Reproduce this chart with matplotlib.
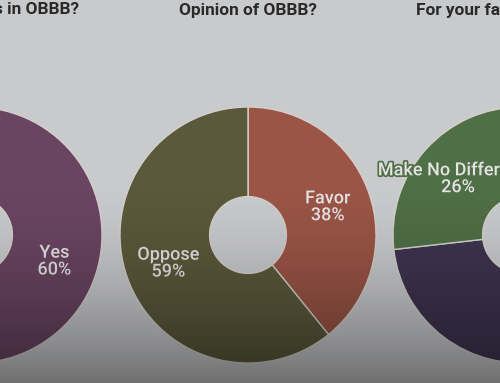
import numpy as np
import matplotlib
matplotlib.use("Agg")
import matplotlib.pyplot as plt
import matplotlib.patheffects as pe

# ---- data ----
titles = ["Heard of the cuts in OBBB?", "Opinion of OBBB?", "For your family, OBBB will?"]
labels_left = ["Yes", "No"]
values_left = [60, 40]
labels_mid = ["Favor", "Oppose"]
values_mid = [38, 59]
labels_right = ["Help", "Hurt", "Make No Difference"]
values_right = [21, 50, 26]

colors_left = ["#6a4562", "#4d6a86"]
colors_mid = ["#9a5546", "#5b593b"]
colors_right = ["#9a5546", "#3f3450", "#4f6f46"]

W, H = 500, 383
fig = plt.figure(figsize=(5.0, 3.83), dpi=100)
ax = fig.add_axes([0, 0, 1, 1])

# background
bg = np.ones((H, 2, 3)) * np.array([201, 202, 204]) / 255.0
ax.imshow(bg, extent=(0, W, 0, H), aspect="auto", zorder=0)

R = 128
cy = H - 235
centers = [(-26, cy), (248, cy), (521, cy)]
datasets = [(labels_left, values_left, colors_left),
            (labels_mid, values_mid, colors_mid),
            (labels_right, values_right, colors_right)]

for (cx, cyy), (labs, vals, cols), title in zip(centers, datasets, titles):
    wedges, _ = ax.pie(vals, colors=cols, center=(cx, cyy), radius=R,
                       startangle=90, counterclock=False,
                       wedgeprops=dict(width=R * 0.70, edgecolor="#d6d0cc",
                                       linewidth=1.0))
    for w, lab, v, c in zip(wedges, labs, vals, cols):
        w.set_zorder(2)
        ang = np.deg2rad((w.theta1 + w.theta2) / 2.0)
        rr = R * 0.66
        tx = cx + rr * np.cos(ang)
        ty = cyy + rr * np.sin(ang)
        t = ax.text(tx, ty, f"{lab}\n{v}%", ha="center", va="center",
                    fontsize=13, family="Roboto", fontweight="medium",
                    color="#e4e2e2", linespacing=0.92, zorder=3)
        t.set_path_effects([pe.withStroke(linewidth=2.5, foreground=c)])
    ax.text(cx, H - 10, title, ha="center", va="center", fontsize=12.4,
            family="Roboto", fontweight="bold", color="#2a2a2a", zorder=3)

# darkening overlay toward the bottom (row 0 = top of picture)
ys = np.arange(H)
a = np.clip((ys - 180) / (H - 180), 0, 1) ** 1.6 * 0.45
ov = np.zeros((H, 2, 4))
ov[:, :, 3] = a[:, None]
ax.imshow(ov, extent=(0, W, 0, H), aspect="auto", zorder=10, origin="upper")

ax.set_xlim(0, W)
ax.set_ylim(0, H)
ax.set_aspect("equal")
ax.axis("off")
fig.savefig("out.png", dpi=100)
